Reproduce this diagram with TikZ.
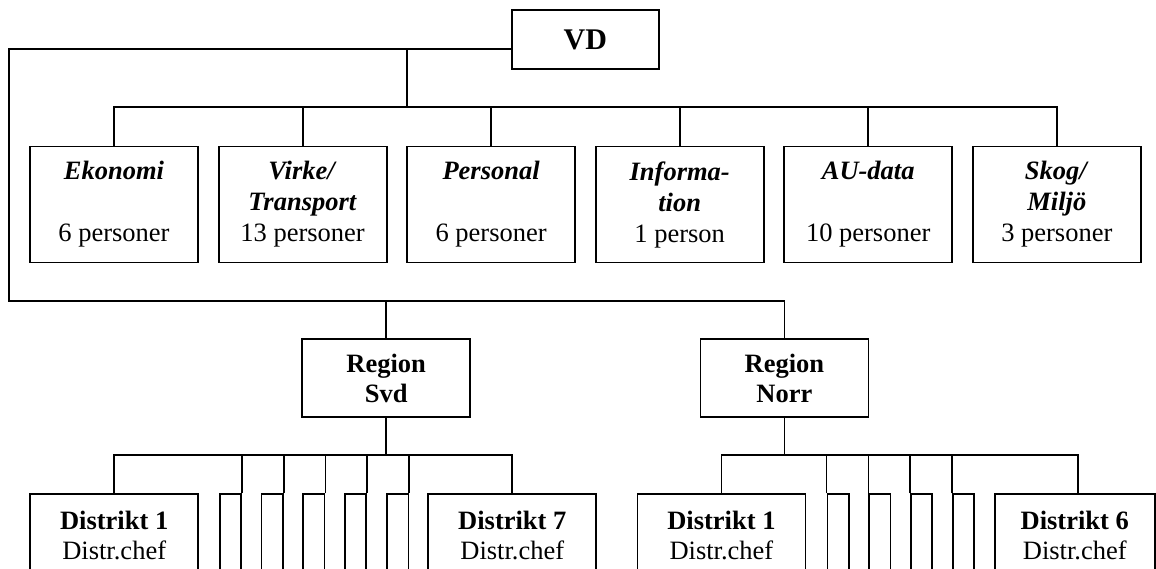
\documentclass[tikz,border=0pt]{standalone}
\usepackage{fontspec}
\setmainfont{Liberation Serif}
\newcommand\deptname[1]{\textbf{\textit{#1}}}
\begin{document}
\begin{tikzpicture}[x=1pt,y=-1pt,line width=1.8pt,
  box/.style={draw,line width=1.8pt,inner sep=0pt,align=center,fill=white,
    font=\fontsize{26.5}{31}\selectfont},
  deptbox/.style={box,minimum width=168pt,minimum height=116pt},
  regbox/.style={box,minimum width=168pt,minimum height=77.4pt,font=\fontsize{26.5}{30}\selectfont\bfseries},
  distbox/.style={box,minimum width=168pt,minimum height=83.4pt,anchor=north,font=\fontsize{26.5}{30}\selectfont},
  stubbox/.style={draw,line width=1.8pt,inner sep=0pt,minimum width=21.2pt,minimum height=83.4pt,anchor=north west},
  conn/.style={draw,line width=1.8pt}]
\useasboundingbox (0,0) rectangle (1156,569);
\clip (0,0) rectangle (1156,569);

% top
\node[box,minimum width=147.3pt,minimum height=58.4pt,font=\fontsize{30}{34}\selectfont\bfseries] (vd) at (585.3,39.5) {VD};

% departments
\node[deptbox] (eko) at (114,204.5) {\deptname{Ekonomi}\\\mbox{}\\6 personer};
\node[deptbox] (vir) at (302.6,204.5) {\deptname{Virke/}\\\deptname{Transport}\\13 personer};
\node[deptbox] (per) at (491.1,204.5) {\deptname{Personal}\\\mbox{}\\6 personer};
\node[deptbox] (inf) at (679.7,204.5) {\deptname{Informa-}\\\deptname{tion}\\1 person};
\node[deptbox] (aud) at (868.2,204.5) {\deptname{AU-data}\\\mbox{}\\10 personer};
\node[deptbox] (sko) at (1056.8,204.5) {\deptname{Skog/}\\\deptname{Miljö}\\3 personer};

% regions
\node[regbox] (svd) at (386.2,378) {Region\\Svd};
\node[regbox] (norr) at (784.4,378) {Region\\Norr};

% districts Svd
\node[distbox] (sd1) at (114.2,493.3) {\textbf{Distrikt 1}\\Distr.chef};
\node[distbox] (sd7) at (512.3,493.3) {\textbf{Distrikt 7}\\Distr.chef};
\foreach \i/\x in {1/219,2/260.6,3/302.4,4/344.2,5/386.3}
  \node[stubbox] (ss\i) at (\x,493.3) {};

% districts Norr
\node[distbox] (nd1) at (721.4,493.3) {\textbf{Distrikt 1}\\Distr.chef};
\node[distbox,minimum width=160.3pt,anchor=north west] (nd6) at (993.7,493.3) {\textbf{Distrikt 6}\\Distr.chef};
\foreach \i/\x in {1/826.5,2/868.4,3/910.2,4/952}
  \node[stubbox] (ns\i) at (\x,493.3) {};

% coordinates
\coordinate (corner) at (9,300.7);
\coordinate (j1) at (407.3,49.3);
\coordinate (dbus) at (0,107.3);
\coordinate (sbus) at (0,455);
\coordinate (nd6top) at (1077.7,493.3);

% connectors
\draw[conn] (vd.west |- j1) -| (corner) -| (norr.north);
\draw[conn] (svd.north) -- (svd.north |- corner);
\draw[conn] (j1) -- (j1 |- dbus);
\draw[conn] (eko.north) -- (eko.north |- dbus) -- (sko.north |- dbus) -- (sko.north);
\foreach \n in {vir,per,inf,aud}
  \draw[conn] (\n.north) -- (\n.north |- dbus);

\draw[conn] (svd.south) -- (svd.south |- sbus);
\draw[conn] (sd1.north) -- (sd1.north |- sbus) -- (sd7.north |- sbus) -- (sd7.north);
\foreach \i in {1,...,5}
  \draw[conn] (ss\i.north east) -- (ss\i.north east |- sbus);

\draw[conn] (norr.south) -- (norr.south |- sbus);
\draw[conn] (nd1.north) -- (nd1.north |- sbus) -- (nd6top |- sbus) -- (nd6top);
\foreach \i in {1,...,4}
  \draw[conn] (ns\i.north west) -- (ns\i.north west |- sbus);
\end{tikzpicture}
\end{document}
